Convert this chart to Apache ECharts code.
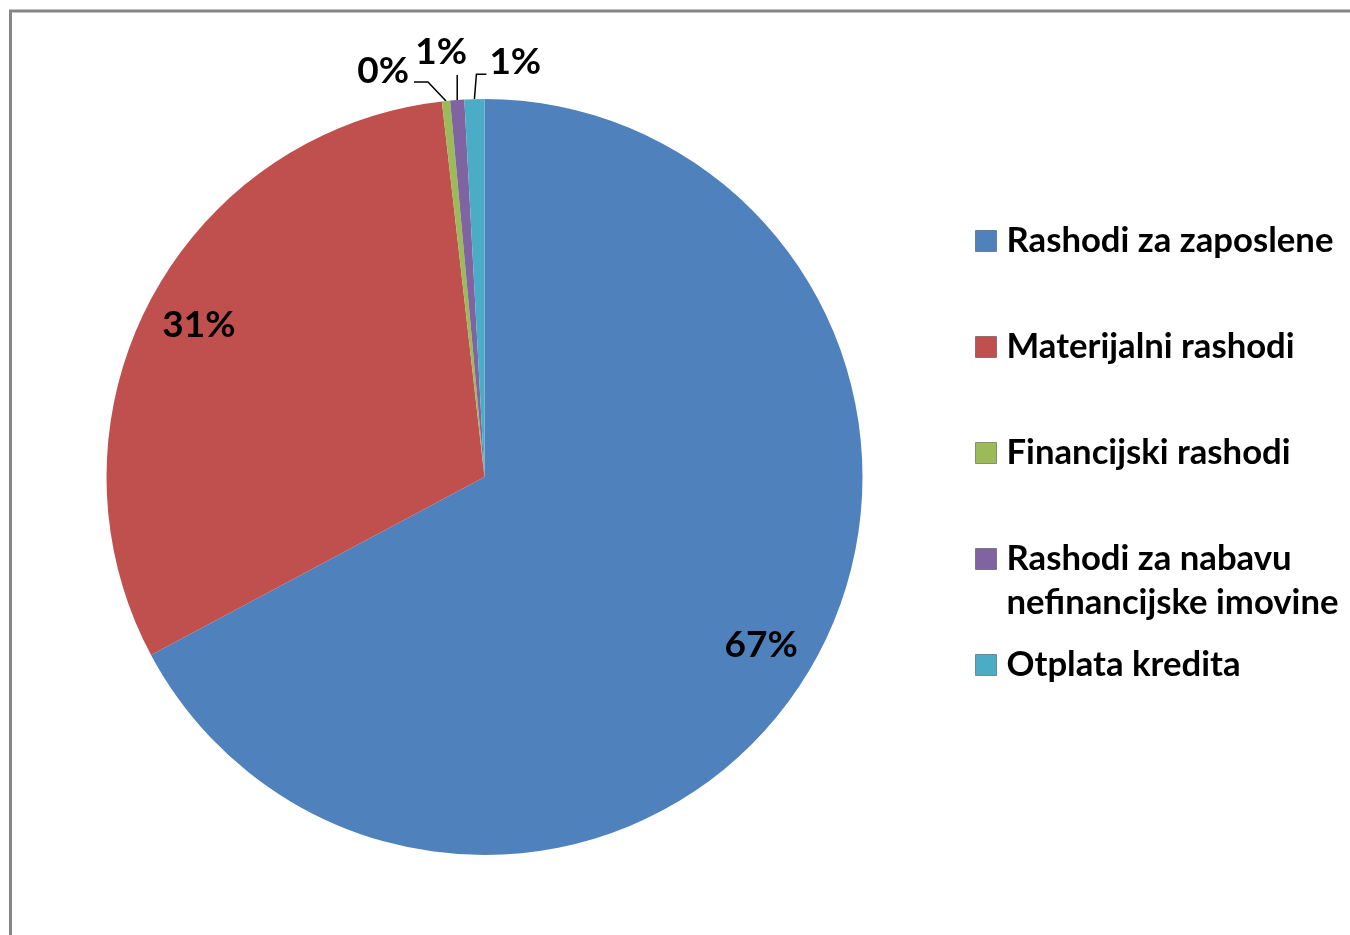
<!DOCTYPE html>
<html>
<head>
<meta charset="utf-8">
<script src="https://cdn.jsdelivr.net/npm/echarts@6/dist/echarts.min.js"></script>
<style>
html,body{margin:0;padding:0;background:#fff;}
#chart{width:1350px;height:935px;}
</style>
</head>
<body>
<div id="chart"></div>
<script>
const categories = ['Rashodi za zaposlene', 'Materijalni rashodi', 'Financijski rashodi', 'Rashodi za nabavu\nnefinancijske imovine', 'Otplata kredita'];
const values = [67.2, 31.0, 0.35, 0.6, 0.85];
const colors = ['#4F81BD', '#C0504D', '#9BBB59', '#8064A2', '#4BACC6'];

const CX = 484.5, CY = 477, R = 378;
const FONT = 'Lato';
const LINE_H = 44;

const chart = echarts.init(document.getElementById('chart'));

const legends = categories.map((name, i) => {
  const multi = name.indexOf('\n') >= 0;
  const iconCenter = 241 + 106 * i;
  const boxH = multi ? LINE_H * 3 : LINE_H;
  return {
    show: true,
    orient: 'vertical',
    left: 975,
    top: iconCenter - boxH / 2,
    padding: 0,
    itemWidth: 21,
    itemHeight: 21,
    itemGap: 0,
    icon: 'rect',
    selectedMode: false,
    data: [name],
    formatter: n => (n.indexOf('\n') >= 0 ? '\n' + n : n),
    itemStyle: { borderWidth: 1, borderColor: 'rgba(0,0,0,0.35)' },
    textStyle: {
      fontFamily: FONT,
      fontWeight: 'bold',
      fontSize: 34.7,
      color: '#000',
      lineHeight: LINE_H,
      padding: [0, 0, 0, 5]
    }
  };
});

const outerLayouts = {
  2: p => ({ knee: [p[0] - 18, p[1] - 19], end: [p[0] - 32, p[1] - 19], x: p[0] - 37, y: p[1] - 30, align: 'right' }),
  3: p => ({ knee: [p[0], p[1] - 25], end: [p[0], p[1] - 25], x: p[0] - 16, y: p[1] - 48, align: 'center' }),
  4: p => ({ knee: [p[0] + 2, p[1] - 25], end: [p[0] + 12, p[1] - 25], x: p[0] + 15, y: p[1] - 37, align: 'left' })
};

const option = {
  backgroundColor: '#fff',
  animation: false,
  color: colors,
  graphic: [{
    type: 'rect',
    shape: { x: 10.5, y: 11, width: 2000, height: 2000 },
    style: { fill: 'none', stroke: '#868686', lineWidth: 3 },
    silent: true
  }],
  legend: legends,
  series: [{
    type: 'pie',
    center: [CX, CY],
    radius: R,
    startAngle: 90,
    clockwise: true,
    avoidLabelOverlap: false,
    itemStyle: { borderWidth: 0 },
    emphasis: { disabled: true },
    label: {
      show: true,
      formatter: p => Math.round(p.percent) + '%',
      fontFamily: FONT,
      fontWeight: 'bold',
      fontSize: 37,
      color: '#000'
    },
    labelLine: {
      show: true,
      length: 15,
      length2: 10,
      lineStyle: { color: '#000', width: 1.5 }
    },
    labelLayout: function (params) {
      const i = params.dataIndex;
      if (outerLayouts[i] && params.labelLinePoints) {
        const p = params.labelLinePoints[0];
        const o = outerLayouts[i](p);
        return {
          x: o.x, y: o.y, align: o.align, verticalAlign: 'middle',
          labelLinePoints: [p, o.knee, o.end]
        };
      }
      const r = params.labelRect;
      const lx = r.x + r.width / 2, ly = r.y + r.height / 2;
      return {
        x: CX + (lx - CX) * 1.68,
        y: CY + (ly - CY) * 1.7,
        align: 'center',
        verticalAlign: 'middle'
      };
    },
    data: categories.map((name, i) => ({
      name: name,
      value: values[i],
      label: { position: values[i] > 5 ? 'inside' : 'outside' },
      labelLine: { show: values[i] <= 5 }
    }))
  }]
};

chart.setOption(option);
</script>
</body>
</html>
